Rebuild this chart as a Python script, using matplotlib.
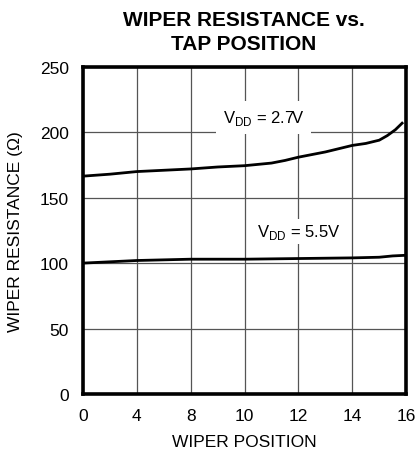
import matplotlib
matplotlib.use('Agg')
import matplotlib.pyplot as plt
import numpy as np

plt.rcParams['font.family'] = ['Liberation Sans Narrow', 'Liberation Sans', 'DejaVu Sans']
plt.rcParams['mathtext.fontset'] = 'custom'
plt.rcParams['mathtext.rm'] = 'Liberation Sans'

# tick labels on the original are evenly spaced but not linear
tick_vals = [0, 4, 8, 10, 12, 14, 16]
tick_pos = np.arange(len(tick_vals))

# VDD = 2.7V
x_27 = [0, 2, 4, 6, 8, 9, 10, 11, 11.5, 12, 12.5, 13, 14, 14.5, 15, 15.3, 15.6, 15.85]
y_27 = [166.5, 168, 170, 171, 172, 173.5, 174.5, 176.5, 178.5, 181, 183, 185, 190, 191.5, 194, 197.5, 202, 207]
# VDD = 5.5V
x_55 = [0, 2, 4, 8, 10, 12, 14, 15, 15.5, 16]
y_55 = [100, 101, 102, 103, 103, 103.5, 104, 104.5, 105.5, 106]

def fwd(x):
    return np.interp(x, tick_vals, tick_pos)

def inv(x):
    return np.interp(x, tick_pos, tick_vals)

fig = plt.figure(figsize=(4.17, 4.56), dpi=100)
ax = fig.add_axes([0.199, 0.134, 0.775, 0.717])
ax.set_xscale('function', functions=(fwd, inv))
ax.set_xlim(0, 16)
ax.set_ylim(0, 250)
ax.set_xticks(tick_vals)
ax.set_xticklabels([str(v) for v in tick_vals])
ax.set_yticks([0, 50, 100, 150, 200, 250])
ax.minorticks_off()
ax.tick_params(length=0, labelsize=12.5, pad=10)
ax.grid(True, color='#555555', linewidth=0.9)
ax.set_axisbelow(True)
for s in ax.spines.values():
    s.set_linewidth(2.6)

ax.plot(x_27, y_27, color='black', linewidth=2.0, zorder=3)
ax.plot(x_55, y_55, color='black', linewidth=2.0, zorder=3)

ax.text(10.7, 211, r'V$_{\mathregular{DD}}$ = 2.7V', ha='center', va='center',
        fontsize=12, bbox=dict(facecolor='white', edgecolor='none', pad=5), zorder=2)
ax.text(12, 124, r'V$_{\mathregular{DD}}$ = 5.5V', ha='center', va='center',
        fontsize=12, bbox=dict(facecolor='white', edgecolor='none', pad=2), zorder=2)

ax.set_xlabel('WIPER POSITION', fontsize=12.5, labelpad=8)
ax.set_ylabel('WIPER RESISTANCE (\u03a9)', fontsize=12.5, labelpad=12)
fig.suptitle('WIPER RESISTANCE vs.\nTAP POSITION', fontsize=15, fontweight='bold',
             family=['Liberation Sans', 'DejaVu Sans'], x=0.585, y=0.975, linespacing=1.3)

fig.savefig('out.png', dpi=100)
